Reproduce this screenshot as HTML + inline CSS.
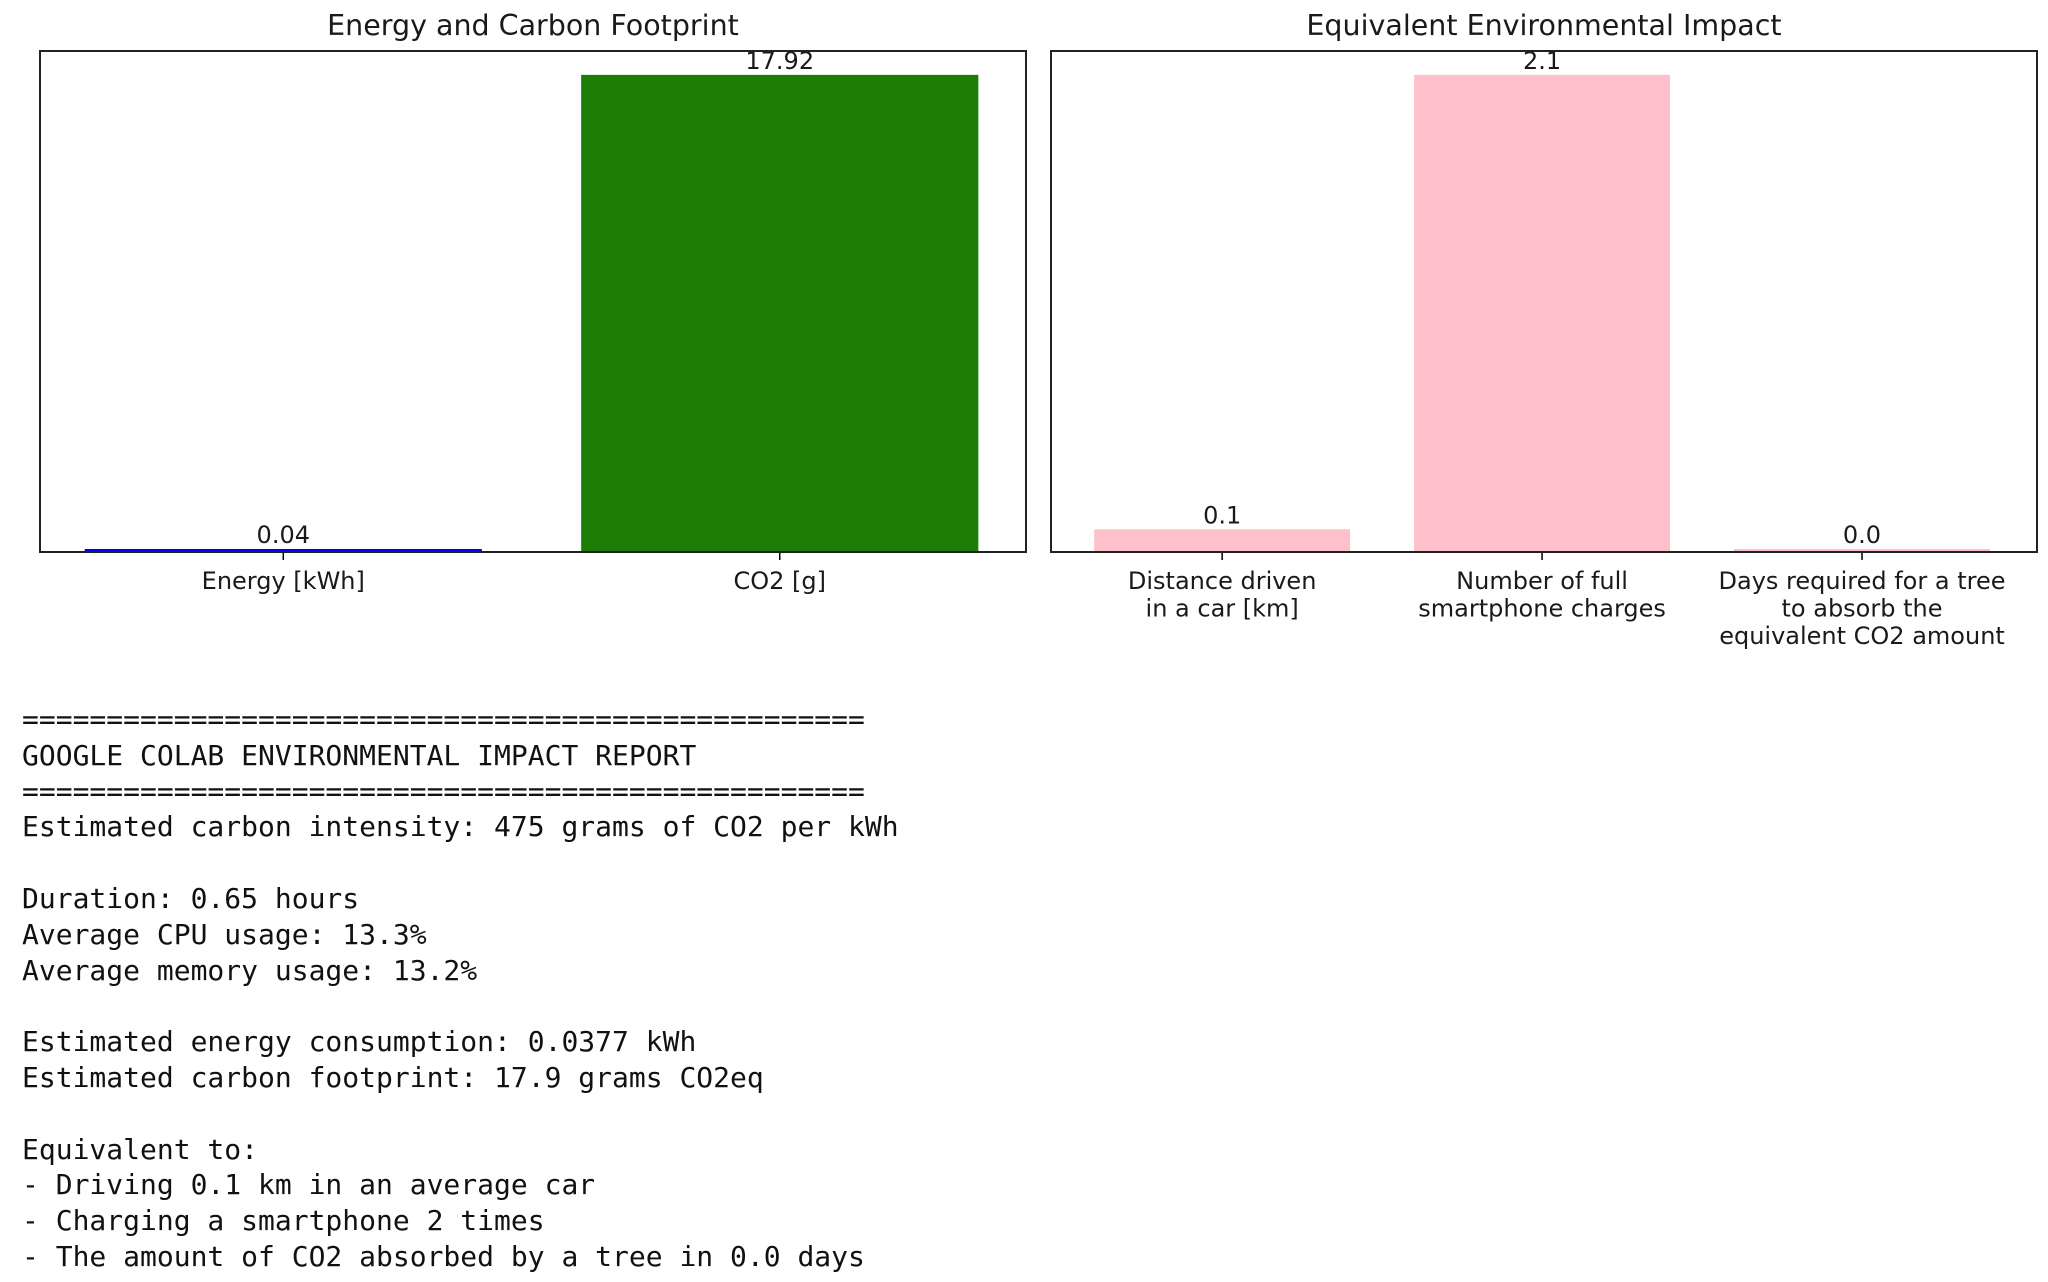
<!DOCTYPE html>
<html><head><meta charset="utf-8">
<style>
html,body{margin:0;padding:0;background:#fff;width:2048px;height:1282px;overflow:hidden;}
svg text{font-family:"DejaVu Sans","Liberation Sans",sans-serif;fill:#1a1a1a;}
pre{position:absolute;left:22px;top:702px;margin:0;font-family:"DejaVu Sans Mono","Liberation Mono",monospace;font-size:28px;line-height:35.8px;color:#111;}
</style></head><body>
<svg id="chart" width="2048" height="690" style="position:absolute;left:0;top:0"></svg>
<pre>==================================================
GOOGLE COLAB ENVIRONMENTAL IMPACT REPORT
==================================================
Estimated carbon intensity: 475 grams of CO2 per kWh

Duration: 0.65 hours
Average CPU usage: 13.3%
Average memory usage: 13.2%

Estimated energy consumption: 0.0377 kWh
Estimated carbon footprint: 17.9 grams CO2eq

Equivalent to:
- Driving 0.1 km in an average car
- Charging a smartphone 2 times
- The amount of CO2 absorbed by a tree in 0.0 days</pre>
<script>
const leftCategories = [["Energy [kWh]"], ["CO2 [g]"]];
const leftValues = [0.0377, 17.92];
const leftLabels = ["0.04", "17.92"];
const leftColors = ["#0000ff", "#1b7d06"];
const rightCategories = [["Distance driven","in a car [km]"], ["Number of full","smartphone charges"], ["Days required for a tree","to absorb the","equivalent CO2 amount"]];
const rightValues = [0.1, 2.1, 0.003];
const rightLabels = ["0.1", "2.1", "0.0"];
const rightColors = ["#ffc0cb", "#ffc0cb", "#ffc0cb"];

const NS = "http://www.w3.org/2000/svg";
const svg = document.getElementById('chart');
function mk(tag, attrs, parent){const e=document.createElementNS(NS,tag);for(const k in attrs)e.setAttribute(k,attrs[k]);(parent||svg).appendChild(e);return e;}

function drawPanel(x0, x1, lo, hi, title, cats, vals, labels, colors, name){
  const top=51, bottom=552;
  const g = mk('g',{});
  
  
  const maxV = Math.max(...vals)*1.05;
  const y = v => bottom - (v/maxV)*(bottom-top);
  const x = c => x0 + (c-lo)/(hi-lo)*(x1-x0);
  const t = mk('text',{x:(x0+x1)/2,y:35,'text-anchor':'middle','font-size':'28.5'},g);
  t.textContent = title;
  
  
  vals.forEach((v,i)=>{
    const bx=x(i-0.4), bw=x(i+0.4)-bx;
    const h=Math.max(bottom-y(v),3), by=bottom-h;
    const r = mk('rect',{x:bx,y:by,width:bw,height:h,fill:colors[i]},g);
    
    
    const lt = mk('text',{x:x(i),y:Math.min(y(v),bottom-3)-6,'text-anchor':'middle','font-size':'24'},g);
    lt.textContent = labels[i];
    
    
    mk('line',{x1:x(i),x2:x(i),y1:bottom,y2:bottom+8,stroke:'#000','stroke-width':1.5},g);
    cats[i].forEach((s,j)=>{
      const tt = mk('text',{x:x(i),y:589+j*27.5,'text-anchor':'middle','font-size':'24'},g);
      tt.textContent = s;
      
      
    });
  });
  const f = mk('rect',{x:x0,y:top,width:x1-x0,height:bottom-top,fill:'none',stroke:'#222','stroke-width':2},g);
  
  
}
drawPanel(40,1026,-0.49,1.496,"Energy and Carbon Footprint",leftCategories,leftValues,leftLabels,leftColors,"energy-carbon-chart");
drawPanel(1051,2037,-0.535,2.547,"Equivalent Environmental Impact",rightCategories,rightValues,rightLabels,rightColors,"equivalent-impact-chart");
</script>
</body></html>
